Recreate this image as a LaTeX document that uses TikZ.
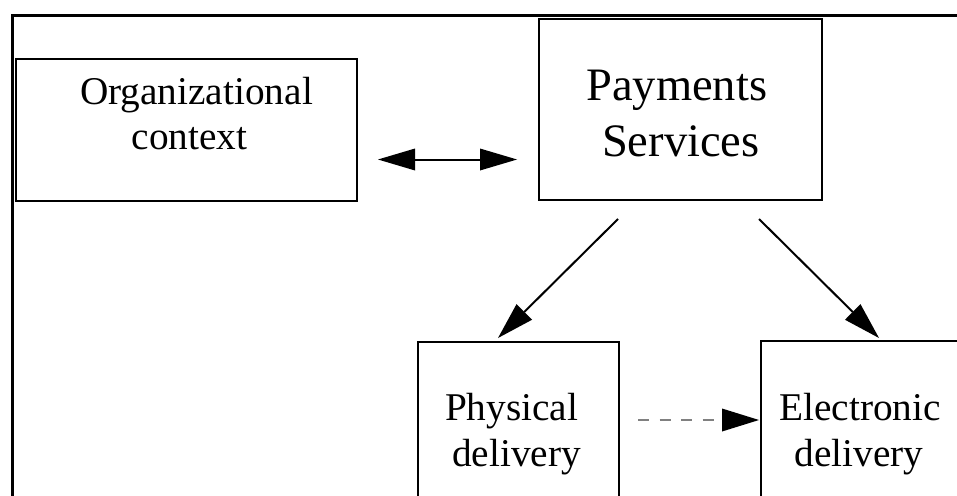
\documentclass[tikz,border=0pt]{standalone}
\usepackage{fontspec}
\setmainfont{Liberation Serif}
\usetikzlibrary{arrows.meta}
\begin{document}
\begin{tikzpicture}[x=1pt,y=-1pt,
  box/.style={draw, line width=2pt, rectangle, outer sep=0pt, inner sep=0pt, anchor=north west},
  frameline/.style={line width=2.4pt},
  txt/.style={anchor=base, inner sep=0pt, font=\fontsize{39.3}{45}\selectfont},
  bigtxt/.style={anchor=base, inner sep=0pt, font=\fontsize{46.5}{56}\selectfont},
  tip/.style={-{Triangle[length=37pt,width=22pt,line width=0pt]}},
  link/.style={line width=2pt, tip},
  dashlink/.style={line width=1.6pt, gray, dash pattern=on 11pt off 10.5pt,
    -{Triangle[length=37pt,width=23pt,line width=0pt,color=black]}}
]
\useasboundingbox (0,0) rectangle (957,495);
\clip (0,0) rectangle (957,495);

% outer frame (left and top edges only)
\draw[frameline] (12.3,520) |- (980,15.6);

% boxes
\node[box, minimum width=341.2pt, minimum height=141.5pt] (org) at (15.8,59) {};
\node[box, minimum width=283.5pt, minimum height=180.8pt] (pay) at (538.5,19.5) {};
\node[box, minimum width=201.3pt, minimum height=220pt] (phys) at (418,342) {};
\node[box, minimum width=260pt, minimum height=220pt] (elec) at (761,341) {};

% labels
\node[txt] (org1) at (196.5,104) {Organizational};
\node[txt] (org2) at (189.5,149) {context};
\node[bigtxt] (pay1) at (676.7,100) {Payments};
\node[bigtxt] (pay2) at (680.8,156.7) {Services};
\node[txt] (phys1) at (511.7,420.7) {Physical};
\node[txt] (phys2) at (516.7,466.7) {delivery};
\node[txt] (elec1) at (860,420.7) {Electronic};
\node[txt] (elec2) at (859.2,466.7) {delivery};

% connector end points
\coordinate (orgR) at (378,159.5);
\coordinate (payL) at (517,159.5);
\coordinate (payBL) at (618,219);
\coordinate (physT) at (498,338);
\coordinate (payBR) at (759,219);
\coordinate (elecT) at (879,338);
\coordinate (physR) at (638,420);
\coordinate (elecL) at (759,420);

% connectors
\draw[line width=2pt, {Triangle[length=37pt,width=22pt,line width=0pt]}-{Triangle[length=37pt,width=22pt,line width=0pt]}] (orgR) -- (payL);
\draw[link] (payBL) -- (physT);
\draw[link] (payBR) -- (elecT);
\draw[dashlink] (physR) -- (elecL);
\end{tikzpicture}
\end{document}
